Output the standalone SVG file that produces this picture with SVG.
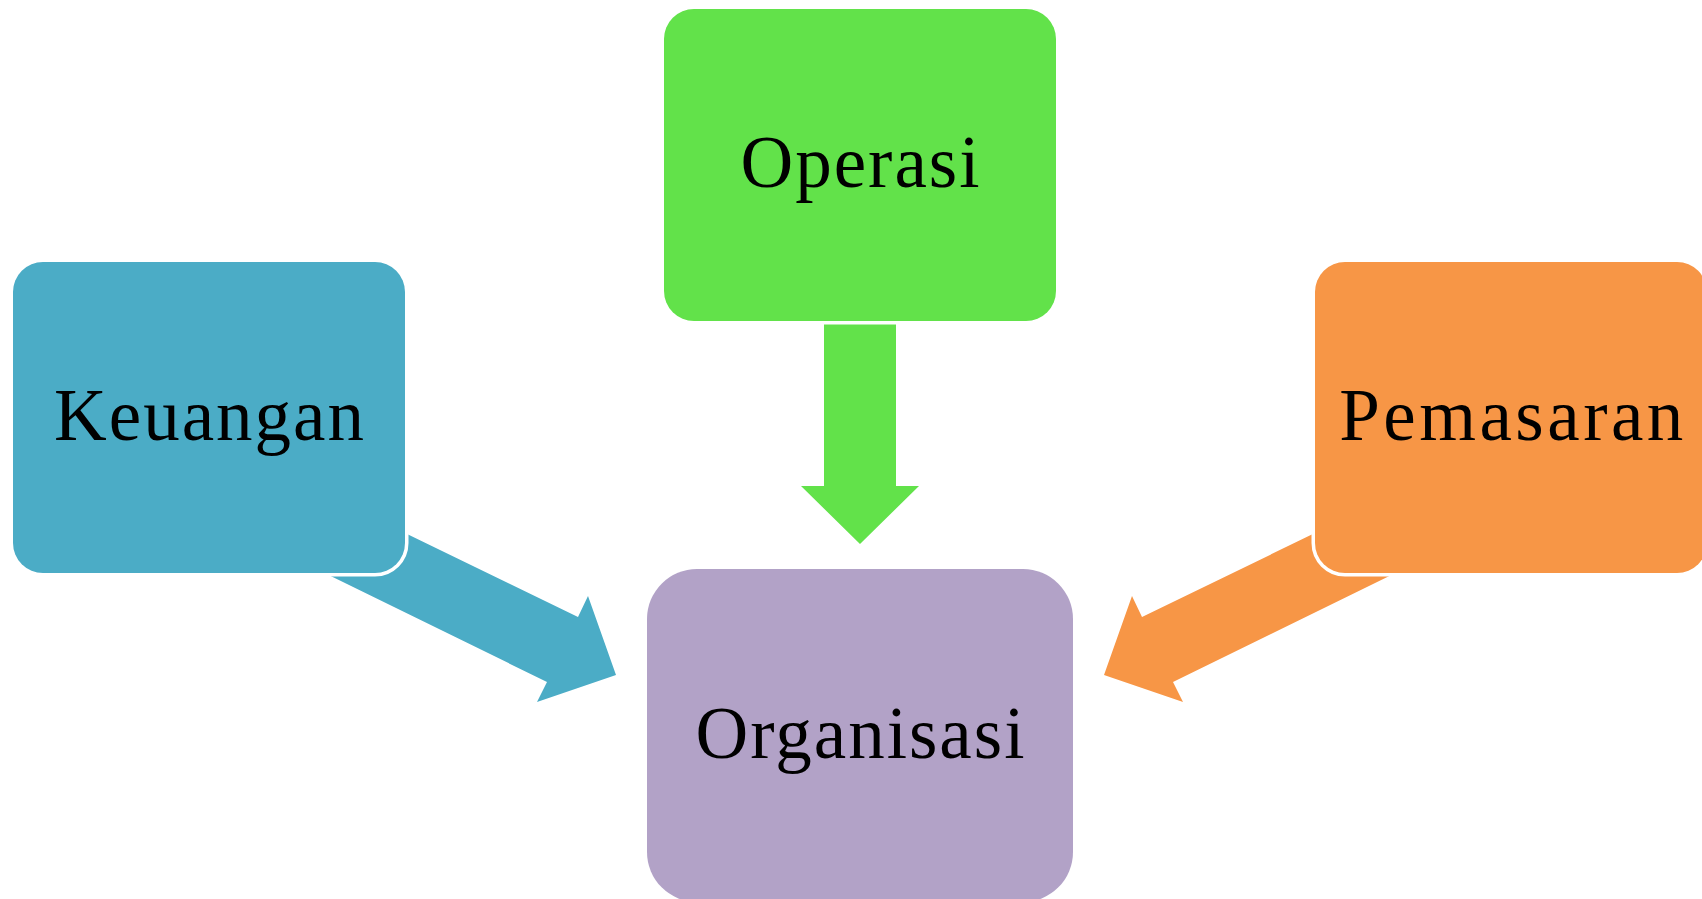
<svg xmlns="http://www.w3.org/2000/svg" width="1702" height="899" viewBox="0 0 1702 899">
<style>
.box{stroke:#ffffff;stroke-width:7;paint-order:stroke}
.lbl{font-family:"Liberation Serif","DejaVu Serif",serif;font-size:73px;letter-spacing:2px;fill:#000000;text-anchor:middle}
</style>
<rect width="1702" height="899" fill="#ffffff"/>
<g id="connectors">
<polygon id="arrow-keuangan" fill="#4BACC6" points="370,516 578,617 588,596 616,675 537,702 547,682 300,561"/>
<polygon id="arrow-pemasaran" fill="#F79646" points="1350,516 1142,617 1132,596 1104,675 1183,702 1173,682 1420,561"/>
<polygon id="arrow-operasi" fill="#62E24A" points="824,300 896,300 896,486 919,486 860,544 801,486 824,486"/>
</g>
<g id="node-keuangan">
<rect class="box" x="13" y="262" width="392" height="311" rx="30" fill="#4BACC6"/>
<text class="lbl" x="210" y="440">Keuangan</text>
</g>
<g id="node-operasi">
<rect class="box" x="664" y="9" width="392" height="312" rx="30" fill="#62E24A"/>
<text class="lbl" x="861" y="187">Operasi</text>
</g>
<g id="node-pemasaran">
<rect class="box" x="1315" y="262" width="392" height="311" rx="30" fill="#F79646"/>
<text class="lbl" x="1513" y="440" style="letter-spacing:3.5px">Pemasaran</text>
</g>
<g id="node-organisasi">
<rect class="box" x="647" y="569" width="426" height="333" rx="50" fill="#B2A2C7"/>
<text class="lbl" x="861" y="758">Organisasi</text>
</g>
</svg>
